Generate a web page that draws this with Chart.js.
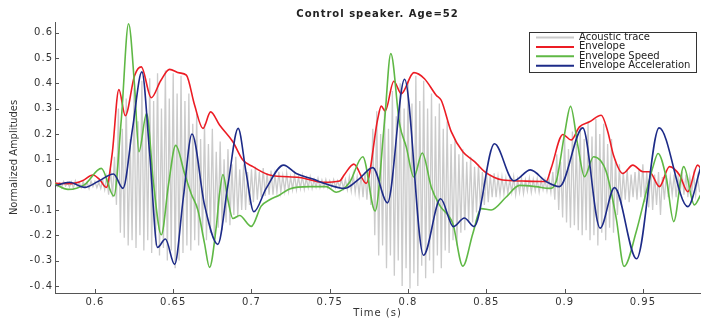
<!DOCTYPE html>
<html>
<head>
<meta charset="utf-8">
<script src="https://cdn.jsdelivr.net/npm/chart.js@4.4.1/dist/chart.umd.min.js"></script>
<style>
body{margin:0;background:#fff}
#wrap{width:701px;height:320px;position:relative}
</style>
</head>
<body>
<div id="wrap"><canvas id="myChart"></canvas></div>
<script>
// ---------------- data ----------------
chartTitle = 'Control speaker. Age=52'
xTitle = 'Time (s)'
yTitle = 'Normalized Amplitudes'
seriesNames = ['Acoustic trace', 'Envelope', 'Envelope Speed', 'Envelope Acceleration']

// acoustic trace: one positive and one negative tip per 2.5 ms cycle, from 0.575 s
traceStart = 0.575
traceStep = 0.0025
traceHi = [
	0.010, 0.006, 0.012, 0.008, 0.010, 0.015, 0.008, 0.012, 0.010, 0.014,
	0.012, 0.010, 0.018, 0.030, 0.060, 0.110, 0.300, 0.220, 0.340, 0.180,
	0.380, 0.250, 0.410, 0.280, 0.420, 0.330, 0.440, 0.300, 0.450, 0.340,
	0.440, 0.360, 0.430, 0.330, 0.360, 0.240, 0.280, 0.180, 0.240, 0.160,
	0.220, 0.130, 0.170, 0.100, 0.140, 0.080, 0.110, 0.060, 0.080, 0.050,
	0.060, 0.070, 0.050, 0.065, 0.045, 0.055, 0.040, 0.050, 0.035, 0.045,
	0.030, 0.040, 0.030, 0.035, 0.025, 0.030, 0.020, 0.025, 0.018, 0.020,
	0.015, 0.020, 0.015, 0.020, 0.020, 0.030, 0.040, 0.030, 0.040, 0.050,
	0.060, 0.220, 0.290, 0.200, 0.300, 0.220, 0.370, 0.270, 0.400, 0.300,
	0.410, 0.320, 0.430, 0.330, 0.410, 0.300, 0.360, 0.270, 0.320, 0.220,
	0.250, 0.160, 0.180, 0.120, 0.140, 0.090, 0.110, 0.070, 0.080, 0.050,
	0.060, 0.040, 0.045, 0.030, 0.030, 0.025, 0.020, 0.030, 0.020, 0.025,
	0.018, 0.025, 0.020, 0.022, 0.018, 0.020, 0.025, 0.050, 0.120, 0.090,
	0.190, 0.140, 0.210, 0.160, 0.230, 0.180, 0.250, 0.190, 0.260, 0.200,
	0.240, 0.160, 0.180, 0.100, 0.080, 0.050, 0.060, 0.040, 0.050, 0.060,
	0.080, 0.050, 0.070, 0.040, 0.050, 0.030, 0.040, 0.030, 0.040, 0.030,
	0.050, 0.040, 0.030, 0.040, 0.030
]
traceLo = [
	-0.008, -0.012, -0.006, -0.010, -0.014, -0.008, -0.012, -0.010, -0.016, -0.008,
	-0.012, -0.015, -0.020, -0.040, -0.050, -0.080, -0.190, -0.210, -0.240, -0.220,
	-0.250, -0.200, -0.260, -0.220, -0.270, -0.240, -0.280, -0.250, -0.300, -0.260,
	-0.330, -0.300, -0.270, -0.240, -0.260, -0.220, -0.240, -0.200, -0.220, -0.190,
	-0.200, -0.170, -0.180, -0.150, -0.160, -0.120, -0.130, -0.100, -0.100, -0.080,
	-0.070, -0.060, -0.050, -0.045, -0.040, -0.040, -0.030, -0.030, -0.025, -0.025,
	-0.020, -0.020, -0.015, -0.018, -0.012, -0.015, -0.010, -0.012, -0.010, -0.012,
	-0.008, -0.012, -0.010, -0.015, -0.020, -0.025, -0.030, -0.040, -0.050, -0.060,
	-0.080, -0.200, -0.280, -0.240, -0.330, -0.280, -0.360, -0.300, -0.400, -0.330,
	-0.410, -0.350, -0.400, -0.320, -0.370, -0.300, -0.350, -0.280, -0.330, -0.260,
	-0.270, -0.220, -0.240, -0.190, -0.180, -0.150, -0.150, -0.110, -0.100, -0.080,
	-0.070, -0.050, -0.050, -0.040, -0.035, -0.035, -0.030, -0.040, -0.030, -0.035,
	-0.025, -0.030, -0.025, -0.030, -0.020, -0.025, -0.030, -0.060, -0.100, -0.130,
	-0.150, -0.170, -0.160, -0.180, -0.200, -0.180, -0.220, -0.200, -0.240, -0.190,
	-0.220, -0.170, -0.190, -0.120, -0.080, -0.060, -0.070, -0.050, -0.060, -0.050,
	-0.070, -0.090, -0.100, -0.080, -0.120, -0.060, -0.050, -0.040, -0.050, -0.040,
	-0.040, -0.050, -0.030, -0.040, -0.030
]

// envelope (red)
envT = [0.5745, 0.585, 0.592, 0.5987, 0.603, 0.6073, 0.611, 0.6153, 0.6194, 0.6253,
	0.6296, 0.636, 0.642, 0.6477, 0.654, 0.6584, 0.6637, 0.669, 0.6739, 0.6796,
	0.6881, 0.6945, 0.7009, 0.7116, 0.7307, 0.7456, 0.7563, 0.7594, 0.7654, 0.7733,
	0.7807, 0.7829, 0.7854, 0.7909, 0.7957, 0.8037, 0.8105, 0.818, 0.8212, 0.8276,
	0.835, 0.8425, 0.8489, 0.8552, 0.8605, 0.8733, 0.8882, 0.8914, 0.8989, 0.9042,
	0.9095, 0.9159, 0.9234, 0.9276, 0.9312, 0.9372, 0.9436, 0.95, 0.9542, 0.9606,
	0.967, 0.9734, 0.9787, 0.985, 0.987]
envY = [0.005, 0.004, 0.015, 0.038, 0.02, -0.011, 0.12, 0.375, 0.272, 0.43,
	0.465, 0.343, 0.41, 0.455, 0.441, 0.432, 0.313, 0.222, 0.287, 0.235,
	0.169, 0.097, 0.071, 0.038, 0.028, 0.009, 0.014, 0.04, 0.081, 0.005,
	0.261, 0.31, 0.29, 0.408, 0.359, 0.442, 0.418, 0.353, 0.333, 0.209,
	0.13, 0.091, 0.051, 0.028, 0.018, 0.014, 0.012, 0.064, 0.198, 0.176,
	0.228, 0.248, 0.274, 0.209, 0.117, 0.044, 0.077, 0.051, 0.051, -0.008,
	0.071, 0.038, -0.028, 0.077, 0.065]

// envelope speed (green)
spdT = [0.5743, 0.5828, 0.5934, 0.6041, 0.6121, 0.6169, 0.6215, 0.6253, 0.6281, 0.633,
	0.6375, 0.6424, 0.647, 0.6516, 0.6573, 0.6615, 0.6658, 0.670, 0.6732, 0.6775,
	0.6796, 0.6818, 0.685, 0.6881, 0.6924, 0.6999, 0.7062, 0.7116, 0.718, 0.7243,
	0.7371, 0.7478, 0.7541, 0.7626, 0.7711, 0.779, 0.785, 0.789, 0.7946, 0.7989,
	0.8037, 0.8091, 0.8148, 0.8201, 0.8286, 0.835, 0.8414, 0.8467, 0.8531, 0.8627,
	0.8712, 0.8818, 0.8904, 0.8946, 0.900, 0.9038, 0.9084, 0.9127, 0.9185, 0.9266,
	0.933, 0.938, 0.9458, 0.9522, 0.9565, 0.9597, 0.965, 0.9697, 0.9761, 0.9829, 0.987]
spdY = [0.002, -0.019, 0.0, 0.064, -0.045, 0.261, 0.635, 0.392, 0.13, 0.281,
	0.0, -0.198, 0.0, 0.155, 0.043, -0.036, -0.101, -0.232, -0.327, -0.167,
	-0.036, 0.04, -0.062, -0.134, -0.122, -0.165, -0.085, -0.06, -0.041, -0.017,
	-0.008, -0.008, -0.03, 0.008, 0.11, -0.104, 0.25, 0.517, 0.24, 0.148,
	0.03, 0.125, -0.009, -0.081, -0.154, -0.322, -0.193, -0.095, -0.1, -0.049,
	-0.003, -0.008, -0.015, 0.012, 0.2, 0.309, 0.156, 0.031, 0.11, 0.051,
	-0.133, -0.323, -0.185, -0.028, 0.071, 0.123, 0.025, -0.146, 0.071, -0.08, -0.04]

// envelope acceleration (blue)
accT = [0.5743, 0.5838, 0.5934, 0.6019, 0.6119, 0.6179, 0.624, 0.630, 0.635, 0.640,
	0.645, 0.6509, 0.6565, 0.662, 0.670, 0.6785, 0.685, 0.6915, 0.6965, 0.7015,
	0.7094, 0.7205, 0.7286, 0.7392, 0.7478, 0.7594, 0.769, 0.7775, 0.7869, 0.7978,
	0.8099, 0.8208, 0.829, 0.836, 0.8422, 0.8552, 0.8675, 0.8782, 0.8882, 0.8967,
	0.9116, 0.9227, 0.9319, 0.946, 0.9604, 0.9787, 0.987]
accY = [-0.005, 0.009, -0.011, 0.012, 0.042, -0.015, 0.22, 0.445, 0.12, -0.248,
	-0.215, -0.315, -0.05, 0.2, -0.08, -0.236, 0.0, 0.222, 0.05, -0.107,
	-0.015, 0.077, 0.044, 0.022, 0.002, -0.015, 0.024, 0.067, -0.072, 0.416,
	-0.279, -0.056, -0.166, -0.132, -0.166, 0.161, 0.015, 0.058, 0.012, -0.008,
	0.224, -0.172, -0.012, -0.293, 0.224, -0.087, 0.07]

xMin = 0.5745
xMax = 0.9865
yMin = -0.428
yMax = 0.642

colors = ['#cbcbcb', '#ec1c24', '#5fb845', '#1d2b88']

// ---------------- build the point lists ----------------
tracePoints = []
for(i=0;i<traceHi.length;i++){
	tracePoints.push({x: traceStart + i*traceStep, y: traceHi[i]})
	tracePoints.push({x: traceStart + (i+0.5)*traceStep, y: traceLo[i]})
}
function pairUp(ts, vs){
	out = []
	for(k=0;k<ts.length;k++){ out.push({x: ts[k], y: vs[k]}) }
	return out
}

axisFont = {family: 'DejaVu Sans', size: 10}
fmt = v => String(+Number(v).toFixed(2))

// inward tick marks, rotated y title and the boxed legend
const framePlugin = {
	id: 'frame',
	beforeDraw(chart){ chart.ctx.letterSpacing = '1px' },
	afterDraw(chart){
		const ctx = chart.ctx, a = chart.chartArea
		const xs = chart.scales.x, ys = chart.scales.y
		ctx.save()
		ctx.letterSpacing = '0px'
		ctx.strokeStyle = '#555'
		ctx.lineWidth = 1
		ctx.beginPath()
		xs.ticks.forEach(t => {
			p = Math.round(xs.getPixelForValue(t.value)) + 0.5
			ctx.moveTo(p, a.bottom); ctx.lineTo(p, a.bottom - 4)
		})
		ys.ticks.forEach(t => {
			p = Math.round(ys.getPixelForValue(t.value)) + 0.5
			ctx.moveTo(a.left, p); ctx.lineTo(a.left + 4, p)
		})
		ctx.stroke()

		// y axis title
		ctx.save()
		ctx.translate(14, (a.top + a.bottom) / 2)
		ctx.rotate(-Math.PI / 2)
		ctx.font = '11px "Liberation Sans Narrow", "DejaVu Sans Condensed", "Liberation Sans", sans-serif'
		ctx.fillStyle = '#333'
		ctx.textAlign = 'center'
		ctx.textBaseline = 'middle'
		ctx.fillText(yTitle, 0, 0)
		ctx.restore()

		// legend
		const sets = chart.data.datasets
		ctx.font = '10px "DejaVu Sans"'
		let maxW = 0
		sets.forEach(d => { maxW = Math.max(maxW, ctx.measureText(d.label).width) })
		const right = Math.round(a.right - 4), top = Math.round(a.top + 10)
		const left = Math.round(right - (50 + maxW + 6))
		const h = 40, rowH = 9.4
		ctx.fillStyle = '#fff'
		ctx.fillRect(left, top, right - left, h)
		ctx.strokeStyle = '#333'
		ctx.lineWidth = 1
		ctx.strokeRect(left + 0.5, top + 0.5, right - left, h)
		ctx.textAlign = 'left'
		ctx.textBaseline = 'middle'
		sets.forEach((d, i) => {
			y = top + 5.5 + rowH*i
			ctx.strokeStyle = d.borderColor
			ctx.lineWidth = 2
			ctx.beginPath(); ctx.moveTo(left + 7, y); ctx.lineTo(left + 45, y); ctx.stroke()
			ctx.fillStyle = '#222'
			ctx.fillText(d.label, left + 50, y)
		})
		ctx.restore()
	}
}

const myChart = new Chart(document.getElementById('myChart'), {
	type: 'line',
	data: {
		datasets: [
			{label: seriesNames[0], data: tracePoints, borderColor: colors[0], borderWidth: 1.3, tension: 0, order: 4},
			{label: seriesNames[1], data: pairUp(envT, envY), borderColor: colors[1], borderWidth: 1.6, cubicInterpolationMode: 'monotone', order: 3},
			{label: seriesNames[2], data: pairUp(spdT, spdY), borderColor: colors[2], borderWidth: 1.6, cubicInterpolationMode: 'monotone', order: 2},
			{label: seriesNames[3], data: pairUp(accT, accY), borderColor: colors[3], borderWidth: 1.6, cubicInterpolationMode: 'monotone', order: 1}
		]
	},
	options: {
		responsive: true,
		maintainAspectRatio: false,
		animation: false,
		events: [],
		elements: {point: {radius: 0}},
		layout: {padding: {left: 0, right: 1, top: 0, bottom: 0}},
		scales: {
			x: {
				type: 'linear', min: xMin, max: xMax,
				grid: {display: false, drawTicks: false},
				border: {display: true, color: '#555', width: 1},
				ticks: {stepSize: 0.05, includeBounds: false, padding: 3, color: '#333', font: axisFont,
					maxRotation: 0, autoSkip: false, callback: fmt},
				title: {display: true, text: xTitle, color: '#333', font: axisFont, padding: {top: 0, bottom: 1}},
				afterFit: s => { s.height = 27 }
			},
			y: {
				type: 'linear', min: yMin, max: yMax,
				grid: {display: false, drawTicks: false},
				border: {display: true, color: '#555', width: 1},
				ticks: {stepSize: 0.1, includeBounds: false, padding: 2, color: '#333', font: axisFont, callback: fmt},
				afterFit: s => { s.width = 55 }
			}
		},
		plugins: {
			legend: {display: false},
			tooltip: {enabled: false},
			title: {
				display: true, text: chartTitle, fullSize: false, color: '#222',
				font: {family: 'DejaVu Sans', size: 10, weight: 'bold'},
				padding: {top: 8, bottom: 2}
			}
		}
	},
	plugins: [framePlugin]
})
</script>
</body>
</html>
